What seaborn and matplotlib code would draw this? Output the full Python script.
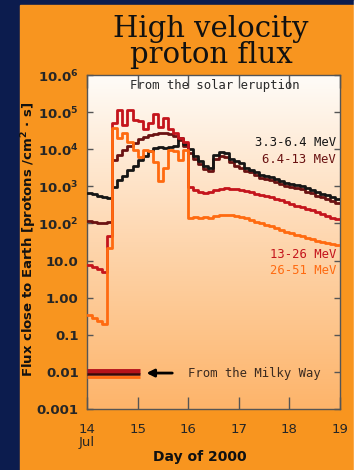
import numpy as np
import pandas as pd
import matplotlib.pyplot as plt
import seaborn as sns
from matplotlib.patches import Rectangle
from matplotlib.colors import LinearSegmentedColormap

# Time bins: 0.1 day starting at day 14.0 (14 July 2000)
bin_start = np.round(np.arange(14.0, 19.0, 0.1), 1)

# log10 of flux per bin
black_log = [2.82, 2.78, 2.75, 2.72, 2.68, 2.98, 3.17, 3.28, 3.45, 3.55,
             3.70, 3.82, 3.95, 4.03, 4.05, 4.02, 4.05, 4.10, 4.30, 4.15,
             4.00, 3.82, 3.68, 3.55, 3.50, 3.85, 3.93, 3.90, 3.75, 3.68,
             3.62, 3.50, 3.45, 3.38, 3.30, 3.28, 3.25, 3.20, 3.15, 3.10,
             3.05, 3.03, 3.00, 2.95, 2.90, 2.85, 2.80, 2.76, 2.72, 2.67]
maroon_log = [2.06, 2.05, 2.02, 2.00, 2.04, 3.71, 3.85, 3.98, 4.10, 4.18,
              4.28, 4.33, 4.38, 4.41, 4.43, 4.43, 4.40, 4.35, 4.25, 4.10,
              3.90, 3.75, 3.60, 3.48, 3.42, 3.75, 3.82, 3.78, 3.65, 3.55,
              3.50, 3.42, 3.38, 3.30, 3.22, 3.20, 3.16, 3.12, 3.07, 3.02,
              2.98, 2.95, 2.92, 2.86, 2.82, 2.75, 2.70, 2.65, 2.60, 2.55]
red_log = [0.88, 0.82, 0.76, 0.70, 1.66, 4.70, 5.05, 4.65, 5.05, 4.80,
           4.75, 4.55, 4.70, 4.95, 4.60, 4.85, 4.55, 4.45, 4.30, 4.20,
           2.98, 2.90, 2.85, 2.82, 2.84, 2.90, 2.93, 2.95, 2.94, 2.92,
           2.90, 2.87, 2.84, 2.80, 2.77, 2.73, 2.70, 2.67, 2.62, 2.58,
           2.52, 2.48, 2.44, 2.40, 2.35, 2.30, 2.25, 2.20, 2.15, 2.12]
orange_log = [-0.47, -0.55, -0.62, -0.71, 1.35, 4.57, 4.30, 4.45, 4.20, 3.98,
              3.78, 3.98, 3.95, 3.65, 3.15, 3.50, 3.98, 3.95, 3.70, 3.98,
              2.15, 2.18, 2.14, 2.17, 2.15, 2.20, 2.23, 2.24, 2.22, 2.20,
              2.18, 2.14, 2.10, 2.05, 2.00, 1.96, 1.92, 1.88, 1.83, 1.78,
              1.74, 1.70, 1.66, 1.62, 1.58, 1.54, 1.50, 1.47, 1.44, 1.42]

bands = ["3.3-6.4 MeV", "6.4-13 MeV", "13-26 MeV", "26-51 MeV"]
band_colors = ["#151515", "#6a1212", "#c4141c", "#ff6a10"]
band_logs = [black_log, maroon_log, red_log, orange_log]

# galactic background (From the Milky Way)
milky_way_flux = [0.0106, 0.0087, 0.0072]
milky_way_colors = ["#b5121b", "#3a0808", "#ff6a10"]

rows = []
for band, logs in zip(bands, band_logs):
    xs = list(bin_start) + [19.0]
    ys = list(logs) + [logs[-1]]
    for x, y in zip(xs, ys):
        rows.append({"day": x, "flux": 10 ** y, "band": band})
df = pd.DataFrame(rows)

sns.set_style("ticks")
navy = "#0c1c4e"
panel = "#f8951f"

fig = plt.figure(figsize=(3.56, 4.70), dpi=100, facecolor=navy)

# background panel axes
bg = fig.add_axes([0, 0, 1, 1], zorder=-5)
bg.set_xlim(0, 356)
bg.set_ylim(470, 0)
bg.axis("off")
bg.add_patch(Rectangle((20, 5), 334, 465, color=panel))
bg.add_patch(Rectangle((354, 0), 2, 470, color="white"))

ax = fig.add_axes([87 / 356, 61 / 470, 253 / 356, 334 / 470], zorder=1)
ax.set_yscale("log")

# gradient background white -> light orange
grad = np.linspace(0, 1, 256).reshape(-1, 1)
cmap = LinearSegmentedColormap.from_list("bg", ["#fdb46a", "#fed6ae", "#fffcf8"])
ax.imshow(grad, extent=[0, 1, 0, 1], transform=ax.transAxes, cmap=cmap,
          aspect="auto", origin="lower", zorder=0)

draw_order = [1, 0, 2, 3]
for i in draw_order:
    sns.lineplot(data=df[df["band"] == bands[i]], x="day", y="flux",
                 color=band_colors[i], drawstyle="steps-post", linewidth=2.0,
                 estimator=None, sort=False, ax=ax, legend=False, zorder=3)

ax.set_xlim(14, 19)
ax.set_ylim(1e-3, 1e6)

lws = [3.5, 1.8, 2.0]
for f, c, lw in zip(milky_way_flux, milky_way_colors, lws):
    ax.hlines(f, 14.0, 15.05, color=c, lw=lw, zorder=4)
ax.annotate("", xy=(15.12, 0.0093), xytext=(15.74, 0.0093),
            arrowprops=dict(arrowstyle="-|>", color="black", lw=2, mutation_scale=11))

mono = "DejaVu Sans Mono"
ax.text(16.0, 0.0093, "From the Milky Way", family=mono, fontsize=8.8,
        color="#3a2a20", va="center", ha="left")
ax.text(16.53, 10 ** 5.73, "From the solar eruption", family=mono, fontsize=8.8,
        color="#2a2a2a", va="center", ha="center")

label_y = [10 ** 4.17, 10 ** 3.71, 10 ** 1.15, 10 ** 0.74]
for b, c, yv in zip(bands, band_colors, label_y):
    ax.text(18.92, yv, b, family=mono, fontsize=8.8,
            color=c, ha="right", va="center")

yticks = [1e-3, 1e-2, 1e-1, 1, 10, 1e2, 1e3, 1e4, 1e5, 1e6]
ylabels = ["0.001", "0.01", "0.1", "1.00", "10.0", r"10.0$^{\mathbf{2}}$",
           r"10.0$^{\mathbf{3}}$", r"10.0$^{\mathbf{4}}$", r"10.0$^{\mathbf{5}}$",
           r"10.0$^{\mathbf{6}}$"]
ax.set_yticks(yticks)
ax.set_yticklabels(ylabels, fontsize=9.5, fontweight="bold")
ax.yaxis.set_minor_locator(plt.NullLocator())
xticks = [14, 15, 16, 17, 18, 19]
ax.set_xticks(xticks)
ax.set_xticklabels(["14\nJul", "15", "16", "17", "18", "19"], fontsize=9.5,
                   linespacing=1.0, va="top")
ax.tick_params(axis="x", direction="in", length=9, width=1, top=True, pad=10,
               color="#555555")
ax.tick_params(axis="y", direction="in", length=4, width=1, right=True, pad=6,
               color="#555555")
for s in ax.spines.values():
    s.set_color("#555555")
    s.set_linewidth(1)

ax.set_xlabel("")
ax.set_ylabel("")
fig.text(0.081, 0.49, "Flux close to Earth [protons /cm$^{\\mathbf{2}}$ \u00b7 s]",
         rotation=90, fontsize=9.5, fontweight="bold", ha="center", va="center",
         color="#111111")
fig.text(0.562, 0.028, "Day of 2000", fontsize=10, fontweight="bold",
         ha="center", va="center", color="#111111")

fig.text(0.593, 0.921, "High velocity", family="DejaVu Serif", fontsize=21,
         ha="center", va="baseline", color="#111111")
fig.text(0.593, 0.866, "proton flux", family="DejaVu Serif", fontsize=21,
         ha="center", va="baseline", color="#111111")

fig.savefig("out.png", dpi=100, facecolor=fig.get_facecolor())
